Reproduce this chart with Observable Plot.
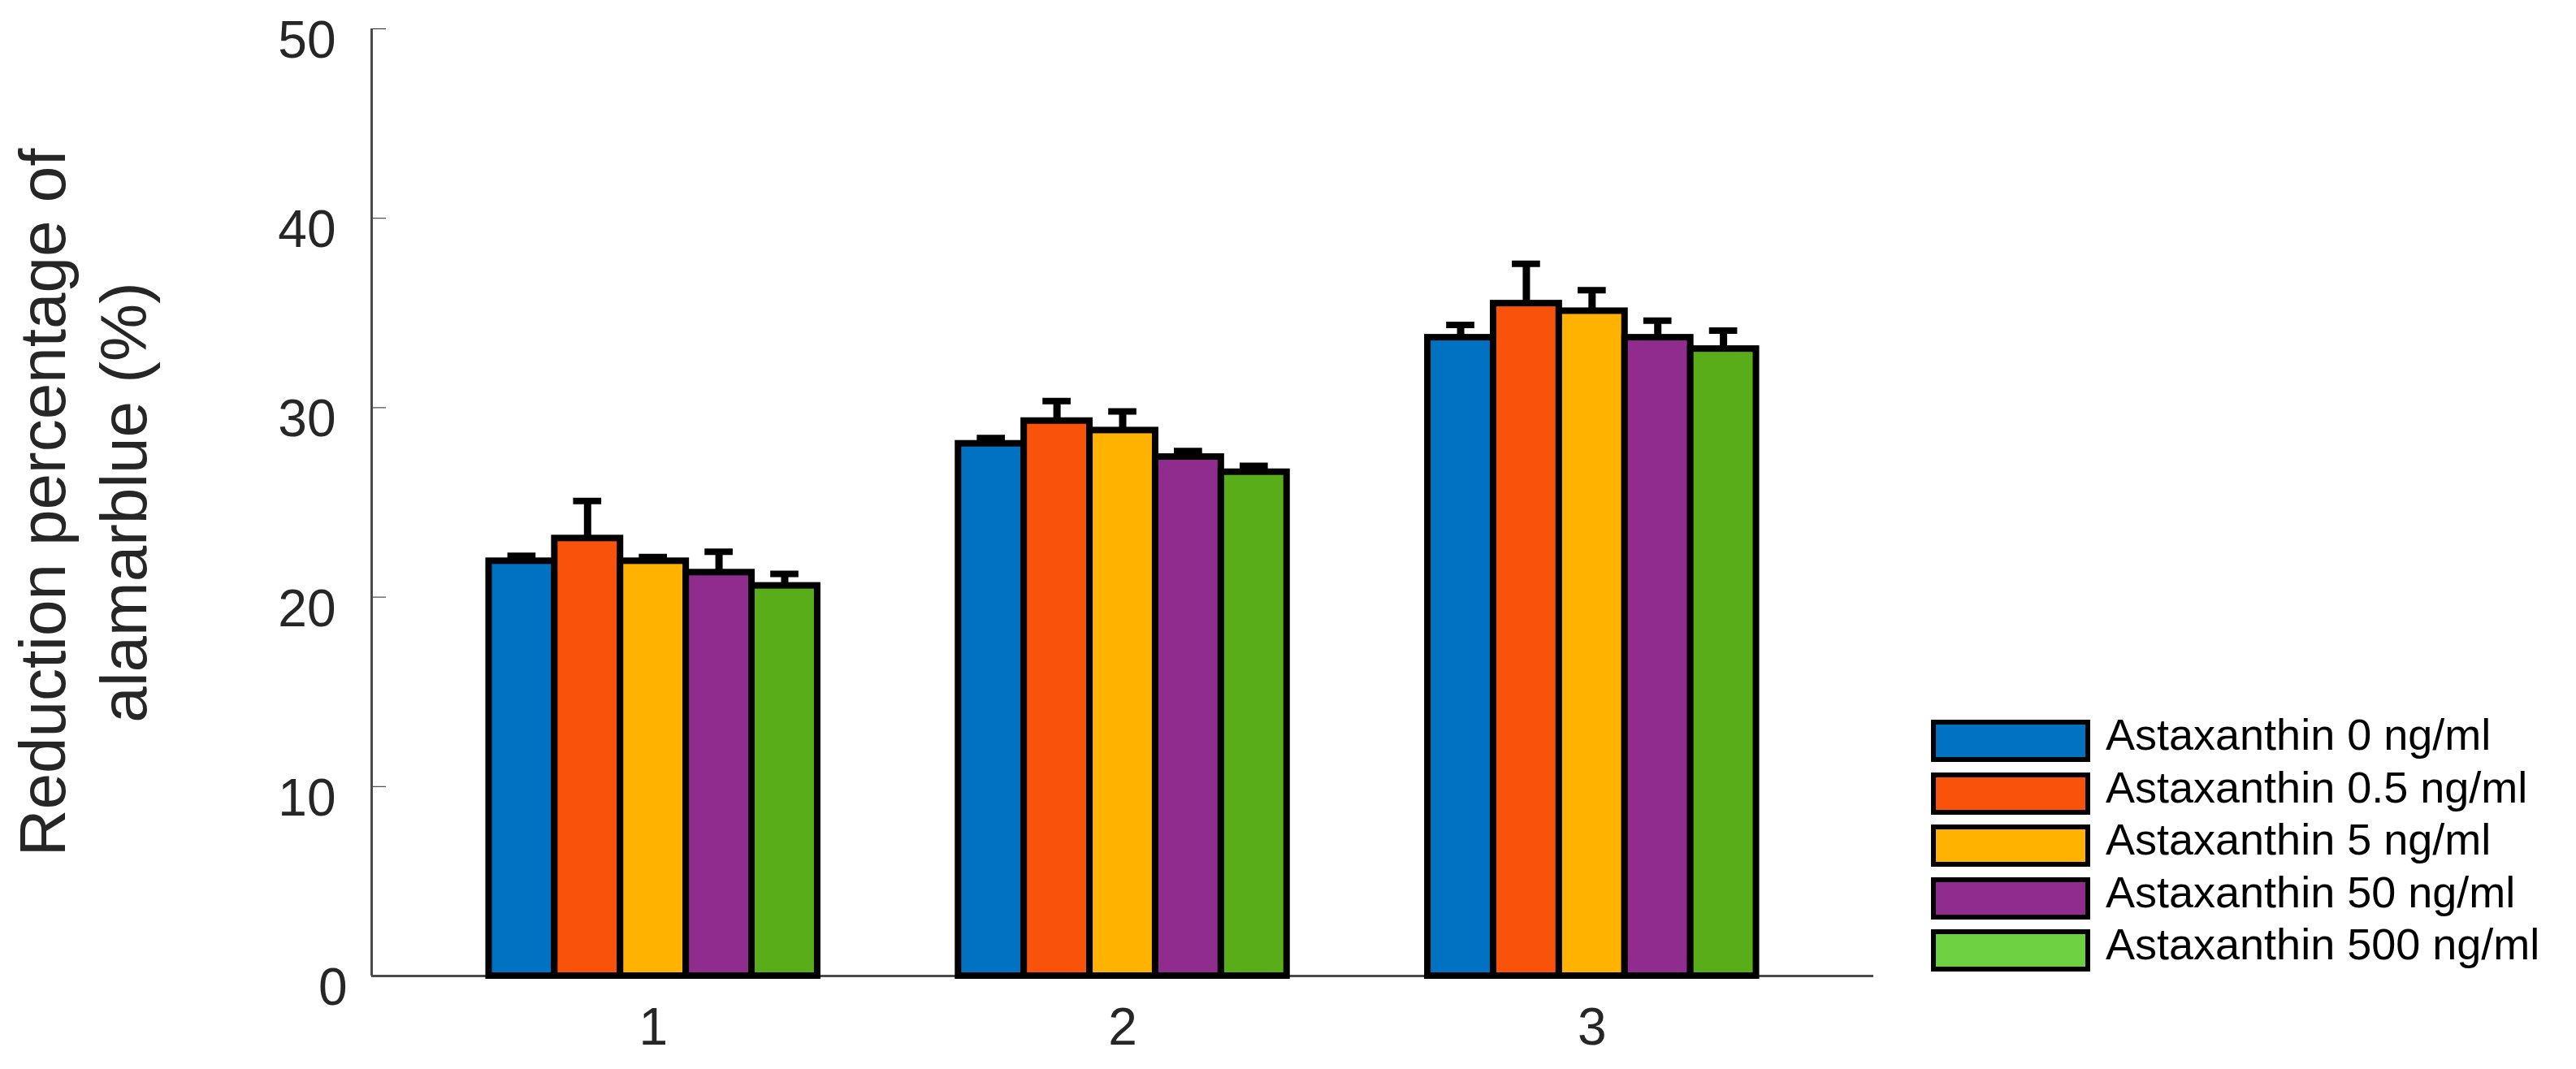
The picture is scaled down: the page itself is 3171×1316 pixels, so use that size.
<!DOCTYPE html>
<html><head><meta charset="utf-8">
<script src="https://cdn.jsdelivr.net/npm/d3@7"></script>
<script src="https://cdn.jsdelivr.net/npm/@observablehq/plot@0.6"></script>
<style>
html,body{margin:0;padding:0;background:#fff;}
#wrap{position:relative;width:3171px;height:1316px;overflow:hidden;font-family:Arial,"Liberation Sans",sans-serif;}
#wrap svg g[aria-label="y-axis"] .tick line{stroke:#4a4a4a;stroke-width:3px;}
#legend{position:absolute;left:2377px;top:886px;}
.row{position:absolute;left:0;height:52px;white-space:nowrap;}
.sw{position:absolute;left:0;top:0;width:196px;height:52px;box-sizing:border-box;border:6px solid #000;}
.lab{position:absolute;left:215px;top:-8px;font-size:54px;line-height:52px;color:#000;}
</style></head><body><div id="wrap"></div>
<script>
// ---- data ----
const groups = [1, 2, 3];
const groupLabels = ["1", "2", "3"];
const seriesNames = [
  "Astaxanthin 0 ng/ml",
  "Astaxanthin 0.5 ng/ml",
  "Astaxanthin 5 ng/ml",
  "Astaxanthin 50 ng/ml",
  "Astaxanthin 500 ng/ml"
];
const barColors = ["#0072C1", "#F8520B", "#FFB200", "#912C8F", "#58AD19"];
const legendColors = ["#0072C1", "#F8520B", "#FFB200", "#912C8F", "#6DD141"];
// mean per series, for groups 1..3
const meanS0 = [21.9, 28.1, 33.7];
const meanS1 = [23.1, 29.3, 35.5];
const meanS2 = [21.9, 28.8, 35.1];
const meanS3 = [21.3, 27.4, 33.7];
const meanS4 = [20.6, 26.6, 33.1];
// error (upper) per series
const errS0 = [0.28, 0.3, 0.67];
const errS1 = [1.98, 1.05, 2.1];
const errS2 = [0.22, 1.0, 1.1];
const errS3 = [1.1, 0.31, 0.9];
const errS4 = [0.63, 0.33, 0.97];
const yTicks = [0, 10, 20, 30, 40, 50];
const yLabelLine1 = "Reduction percentage of";
const yLabelLine2 = "alamarblue (%)";

const means = [meanS0, meanS1, meanS2, meanS3, meanS4];
const errs = [errS0, errS1, errS2, errS3, errS4];

// grouped-bar layout in x units
const groupWidth = 0.7;
const barW = groupWidth / seriesNames.length;
const capHalf = 0.03;

const rows = [];
seriesNames.forEach((s, i) => {
  groups.forEach((g, j) => {
    const x1 = g - groupWidth / 2 + i * barW;
    rows.push({
      series: s, group: g,
      x1, x2: x1 + barW, xm: x1 + barW / 2,
      base: 0,
      value: means[i][j],
      top: means[i][j] + errs[i][j]
    });
  });
});

const axisColor = "#4a4a4a";
const textColor = "#262626";

const chart = Plot.plot({
  width: 3171,
  height: 1316,
  marginLeft: 457,
  marginRight: 865,
  marginTop: 35,
  marginBottom: 115,
  x: {domain: [0.4, 3.6], ticks: groups, tickSize: 0, tickPadding: 39, label: null,
      tickFormat: d => groupLabels[groups.indexOf(d)]},
  y: {domain: [0, 50], ticks: yTicks, tickSize: -18, tickPadding: 44, label: null, tickFormat: () => ""},
  color: {domain: seriesNames, range: barColors},
  style: {fontFamily: "Arial, 'Liberation Sans', sans-serif", fontSize: "64px", color: textColor,
          background: "white", overflow: "visible"},
  marks: [
    Plot.ruleY([0], {stroke: axisColor, strokeWidth: 3}),
    Plot.ruleX([0.4], {stroke: axisColor, strokeWidth: 3}),
    Plot.text(yTicks.filter(t => t !== 0), {y: d => d, text: d => String(d), frameAnchor: "left",
      dx: -44, dy: 15, textAnchor: "end", fontSize: 64, fill: textColor}),
    Plot.text(yTicks.filter(t => t === 0), {y: d => d, text: d => String(d), frameAnchor: "left",
      dx: -30, dy: 15, textAnchor: "end", fontSize: 64, fill: textColor}),
    Plot.rect(rows, {x1: "x1", x2: "x2", y1: "base", y2: "value", fill: "series", stroke: "black", strokeWidth: 8}),
    Plot.ruleX(rows, {x: "xm", y1: "value", y2: "top", stroke: "black", strokeWidth: 9}),
    Plot.ruleY(rows, {y: "top", x1: d => d.xm - capHalf, x2: d => d.xm + capHalf, stroke: "black", strokeWidth: 8}),
    Plot.text([yLabelLine1], {frameAnchor: "left", dx: -403, rotate: -90, fontSize: 80,
      fill: textColor, textAnchor: "middle"}),
    Plot.text([yLabelLine2], {frameAnchor: "left", dx: -303, rotate: -90, fontSize: 80,
      fill: textColor, textAnchor: "middle"})
  ]
});

const wrap = document.getElementById("wrap");
wrap.appendChild(chart);

const legend = document.createElement("div");
legend.id = "legend";
seriesNames.forEach((s, i) => {
  const row = document.createElement("div");
  row.className = "row";
  row.style.top = (i * 64.6) + "px";
  const sw = document.createElement("div");
  sw.className = "sw";
  sw.style.background = legendColors[i];
  const lab = document.createElement("div");
  lab.className = "lab";
  lab.textContent = s;
  row.appendChild(sw);
  row.appendChild(lab);
  legend.appendChild(row);
});
wrap.appendChild(legend);
</script>
</body></html>
